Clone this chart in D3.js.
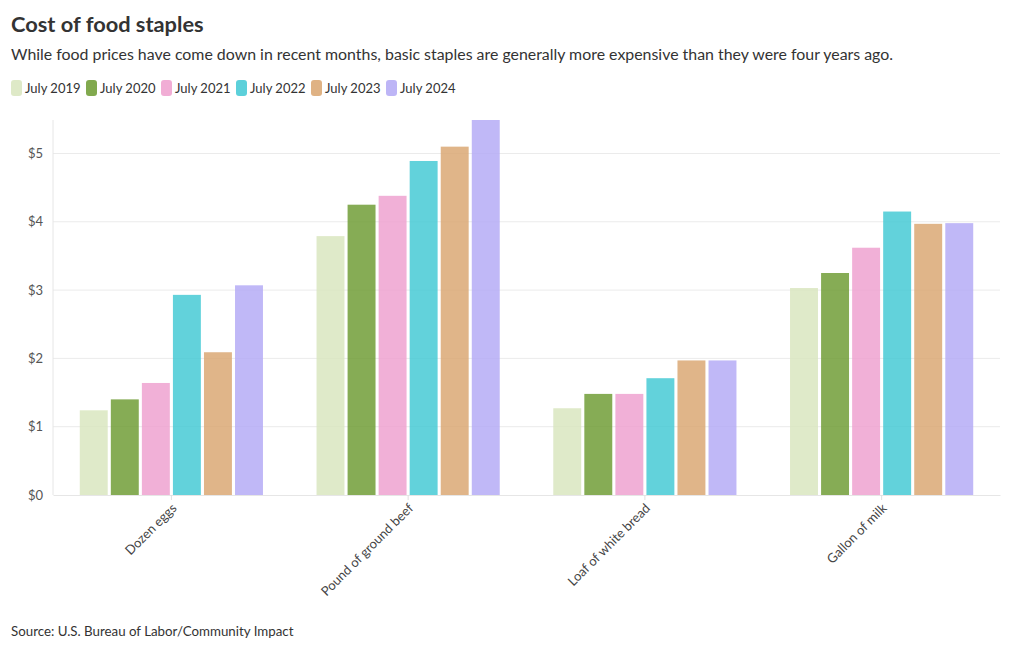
<!DOCTYPE html>
<html><head><meta charset="utf-8">
<script src="https://cdn.jsdelivr.net/npm/d3@7"></script>
<style>
body{margin:0;background:#fff;}
svg text{font-family:"Source Sans Pro","Lato","Noto Sans",sans-serif;}
</style></head>
<body><svg id="c" width="1020" height="650"></svg>
<script>
const categories = ["Dozen eggs","Pound of ground beef","Loaf of white bread","Gallon of milk"];
const seriesNames = ["July 2019","July 2020","July 2021","July 2022","July 2023","July 2024"];
const july2019 = [1.24, 3.79, 1.27, 3.03];
const july2020 = [1.40, 4.25, 1.48, 3.25];
const july2021 = [1.64, 4.38, 1.48, 3.62];
const july2022 = [2.93, 4.89, 1.71, 4.15];
const july2023 = [2.09, 5.10, 1.97, 3.97];
const july2024 = [3.07, 5.49, 1.97, 3.98];
const colors = ["#d8e5bd","#6b9a2f","#ee9fce","#3fc8d3","#d9a56f","#b2a8f5"];
const yTicks = [0,1,2,3,4,5];

const seriesValues = [july2019,july2020,july2021,july2022,july2023,july2024];
const svg = d3.select("#c");
const m = {left:53, right:1000, top:120, bottom:495};

svg.append("text").attr("x",11).attr("y",32).attr("font-size",21.8).attr("font-weight",700).attr("fill","#333")
  .text("Cost of food staples");
svg.append("text").attr("x",11).attr("y",60).attr("font-size",15.9).attr("fill","#333")
  .text("While food prices have come down in recent months, basic staples are generally more expensive than they were four years ago.");

// legend
const lg = svg.append("g");
let lx = 11;
seriesNames.forEach((s,i)=>{
  const g = lg.append("g").attr("transform",`translate(${lx},80)`);
  g.append("rect").attr("width",11).attr("height",16).attr("rx",3).attr("fill",colors[i]).attr("opacity",0.85);
  const t = g.append("text").attr("x",14).attr("y",13).attr("font-size",13).attr("fill","#333").text(s);
  lx += 14 + t.node().getComputedTextLength() + 5.5;
});

const x0 = d3.scaleBand().domain(categories).range([m.left,m.right]).paddingInner(0.2).paddingOuter(0.1);
const x1 = d3.scaleBand().domain(seriesNames).range([0,x0.bandwidth()]).padding(0.1);
const y = d3.scaleLinear().domain([0,5.49]).range([m.bottom,m.top]);

// grid
svg.append("g").selectAll("line").data(yTicks.slice(1)).join("line")
  .attr("x1",m.left).attr("x2",m.right).attr("y1",d=>y(d)).attr("y2",d=>y(d))
  .attr("stroke","#ebebeb").attr("stroke-width",1);
svg.append("line").attr("x1",m.left).attr("x2",m.left).attr("y1",m.top).attr("y2",m.bottom).attr("stroke","#e6e6e6");

const yAxis = svg.append("g").attr("transform",`translate(${m.left},0)`)
  .call(d3.axisLeft(y).tickValues(yTicks).tickFormat(d=>"$"+d).tickSize(0).tickPadding(10));
yAxis.select(".domain").remove();
yAxis.selectAll("text").attr("font-size",13).attr("fill","#555").attr("font-family",null);

// bars
const groups = svg.append("g").selectAll("g").data(categories).join("g")
  .attr("transform",d=>`translate(${x0(d)},0)`);
groups.selectAll("rect").data((c,ci)=>seriesNames.map((s,si)=>({s,si,v:seriesValues[si][ci]}))).join("rect")
  .attr("x",d=>x1(d.s)).attr("width",x1.bandwidth())
  .attr("y",d=>y(d.v)).attr("height",d=>y(0)-y(d.v))
  .attr("fill",d=>colors[d.si]).attr("opacity",0.82);

const xAxis = svg.append("g").attr("transform",`translate(0,${m.bottom})`)
  .call(d3.axisBottom(x0).tickSize(5).tickSizeOuter(0));
xAxis.select(".domain").attr("stroke","#e6e6e6");
xAxis.selectAll(".tick line").attr("stroke","#e0e0e0");
xAxis.selectAll("text").attr("font-size",13).attr("fill","#444").attr("font-family",null)
  .attr("text-anchor","end").attr("dy",null).attr("y",0).attr("x",0)
  .attr("transform","translate(6,14) rotate(-45)");

svg.append("text").attr("x",11).attr("y",636).attr("font-size",13.3).attr("fill","#333")
  .text("Source: U.S. Bureau of Labor/Community Impact");
</script></body></html>
